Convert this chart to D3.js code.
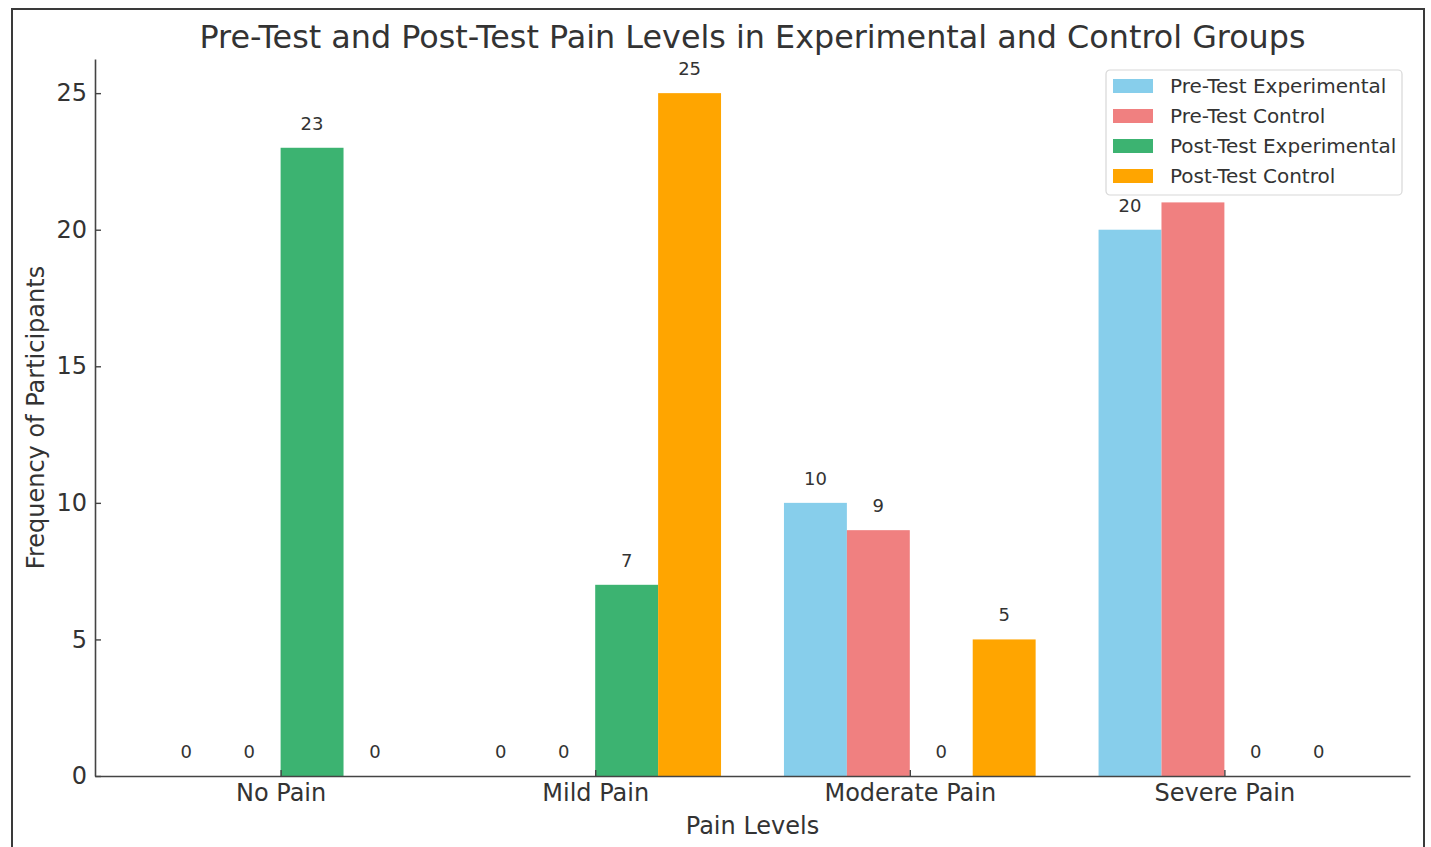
<!DOCTYPE html>
<html>
<head>
<meta charset="utf-8">
<script src="https://cdn.jsdelivr.net/npm/d3@7"></script>
<style>
  html, body { margin: 0; padding: 0; background: #fff; }
  svg { display: block; font-family: "DejaVu Sans", sans-serif; }
</style>
</head>
<body>
<svg id="chart" width="1431" height="847"></svg>
<script>
// Pain level categories on the x axis
const categories = ["No Pain", "Mild Pain", "Moderate Pain", "Severe Pain"];

// Participant counts per group
const preTestExperimental  = [0, 0, 10, 20];
const preTestControl       = [0, 0, 9, 21];
const postTestExperimental = [23, 7, 0, 0];
const postTestControl      = [0, 25, 5, 0];

const seriesNames = ["Pre-Test Experimental", "Pre-Test Control", "Post-Test Experimental", "Post-Test Control"];
const seriesColors = ["#87CEEB", "#F08080", "#3CB371", "#FFA500"];
const yTicks = [0, 5, 10, 15, 20, 25];

const series = [preTestExperimental, preTestControl, postTestExperimental, postTestControl]
  .map((values, i) => ({ name: seriesNames[i], color: seriesColors[i], values, offset: i - 2 }));

const barWidth = 0.2;
const textColor = "#333";

const svg = d3.select("#chart");
const W = 1431, H = 847;
const plot = { left: 95, right: 1410, top: 59, bottom: 776 };
const legendBox = { x: 1106, y: 70, w: 296, h: 125 };

svg.append("rect").attr("width", W).attr("height", H).attr("fill", "#fff");

// outer frame
svg.append("rect")
  .attr("x", 12).attr("y", 9)
  .attr("width", 1412).attr("height", 860)
  .attr("fill", "none").attr("stroke", "#3a3a3a").attr("stroke-width", 2);

// scales: categories sit at integer positions, bars laid out side by side
const xMin = -2 * barWidth, xMax = categories.length - 1 + 2 * barWidth;
const xPad = (xMax - xMin) * 0.05;
const x = d3.scaleLinear().domain([xMin - xPad, xMax + xPad]).range([plot.left, plot.right]);
const yMax = d3.max(series, s => d3.max(s.values));
const y = d3.scaleLinear().domain([0, yMax * 1.05]).range([plot.bottom, plot.top]);

// bars
const groups = svg.append("g").selectAll("g").data(series).join("g").attr("fill", d => d.color);
groups.selectAll("rect")
  .data(s => s.values.map((v, i) => ({ v, i, offset: s.offset })))
  .join("rect")
  .attr("x", d => x(d.i + d.offset * barWidth))
  .attr("width", d => x(d.i + (d.offset + 1) * barWidth) - x(d.i + d.offset * barWidth))
  .attr("y", d => y(d.v))
  .attr("height", d => y(0) - y(d.v));

// value labels (a label that would sit under the legend box stays hidden by it)
const labelX = d => x(d.i + (d.offset + 0.5) * barWidth);
const labelY = d => y(d.v) - 18;
const underLegend = d => labelX(d) > legendBox.x && labelX(d) < legendBox.x + legendBox.w &&
  labelY(d) > legendBox.y && labelY(d) - 14 < legendBox.y + legendBox.h;
groups.selectAll("text")
  .data(s => s.values.map((v, i) => ({ v, i, offset: s.offset })).filter(d => !underLegend(d)))
  .join("text")
  .attr("x", labelX)
  .attr("y", labelY)
  .attr("text-anchor", "middle")
  .attr("font-size", 18)
  .attr("fill", textColor)
  .text(d => d.v);

// axes
const xAxis = d3.axisBottom(x)
  .tickValues(categories.map((c, i) => i))
  .tickFormat(i => categories[i])
  .tickSizeInner(-6).tickSizeOuter(0).tickPadding(12);
const gx = svg.append("g").attr("transform", `translate(0,${plot.bottom})`).call(xAxis);

const yAxis = d3.axisLeft(y).tickValues(yTicks).tickSizeInner(-6).tickSizeOuter(0).tickPadding(10);
const gy = svg.append("g").attr("transform", `translate(${plot.left},0)`).call(yAxis);

[gx, gy].forEach(g => {
  g.select(".domain").attr("stroke", "#444").attr("stroke-width", 1.6);
  g.selectAll(".tick line").attr("stroke", "#444").attr("stroke-width", 1.4);
  g.selectAll(".tick text").attr("fill", textColor).attr("font-size", 24)
    .attr("font-family", "DejaVu Sans, sans-serif");
});
gx.selectAll(".tick text").attr("dy", "0.71em").attr("y", 8);
gy.selectAll(".tick text").attr("x", -8);

// titles
svg.append("text")
  .attr("x", (plot.left + plot.right) / 2).attr("y", 48)
  .attr("text-anchor", "middle").attr("font-size", 31.8).attr("fill", textColor)
  .text("Pre-Test and Post-Test Pain Levels in Experimental and Control Groups");

svg.append("text")
  .attr("x", (plot.left + plot.right) / 2).attr("y", 834)
  .attr("text-anchor", "middle").attr("font-size", 24).attr("fill", textColor)
  .text("Pain Levels");

svg.append("text")
  .attr("transform", `translate(44,${(plot.top + plot.bottom) / 2}) rotate(-90)`)
  .attr("text-anchor", "middle").attr("font-size", 24).attr("fill", textColor)
  .text("Frequency of Participants");

// legend
const legend = svg.append("g").attr("transform", `translate(${legendBox.x},${legendBox.y})`);
legend.append("rect")
  .attr("width", legendBox.w).attr("height", legendBox.h).attr("rx", 4)
  .attr("fill", "#fff").attr("stroke", "#d8d8d8").attr("stroke-width", 1.2);
const items = legend.selectAll("g.item").data(series).join("g")
  .attr("class", "item")
  .attr("transform", (d, i) => `translate(0,${16 + i * 30})`);
items.append("rect").attr("x", 7).attr("y", -7).attr("width", 40).attr("height", 14).attr("fill", d => d.color);
items.append("text").attr("x", 64).attr("y", 0).attr("dy", "0.35em")
  .attr("font-size", 20).attr("fill", textColor).text(d => d.name);
</script>
</body>
</html>
